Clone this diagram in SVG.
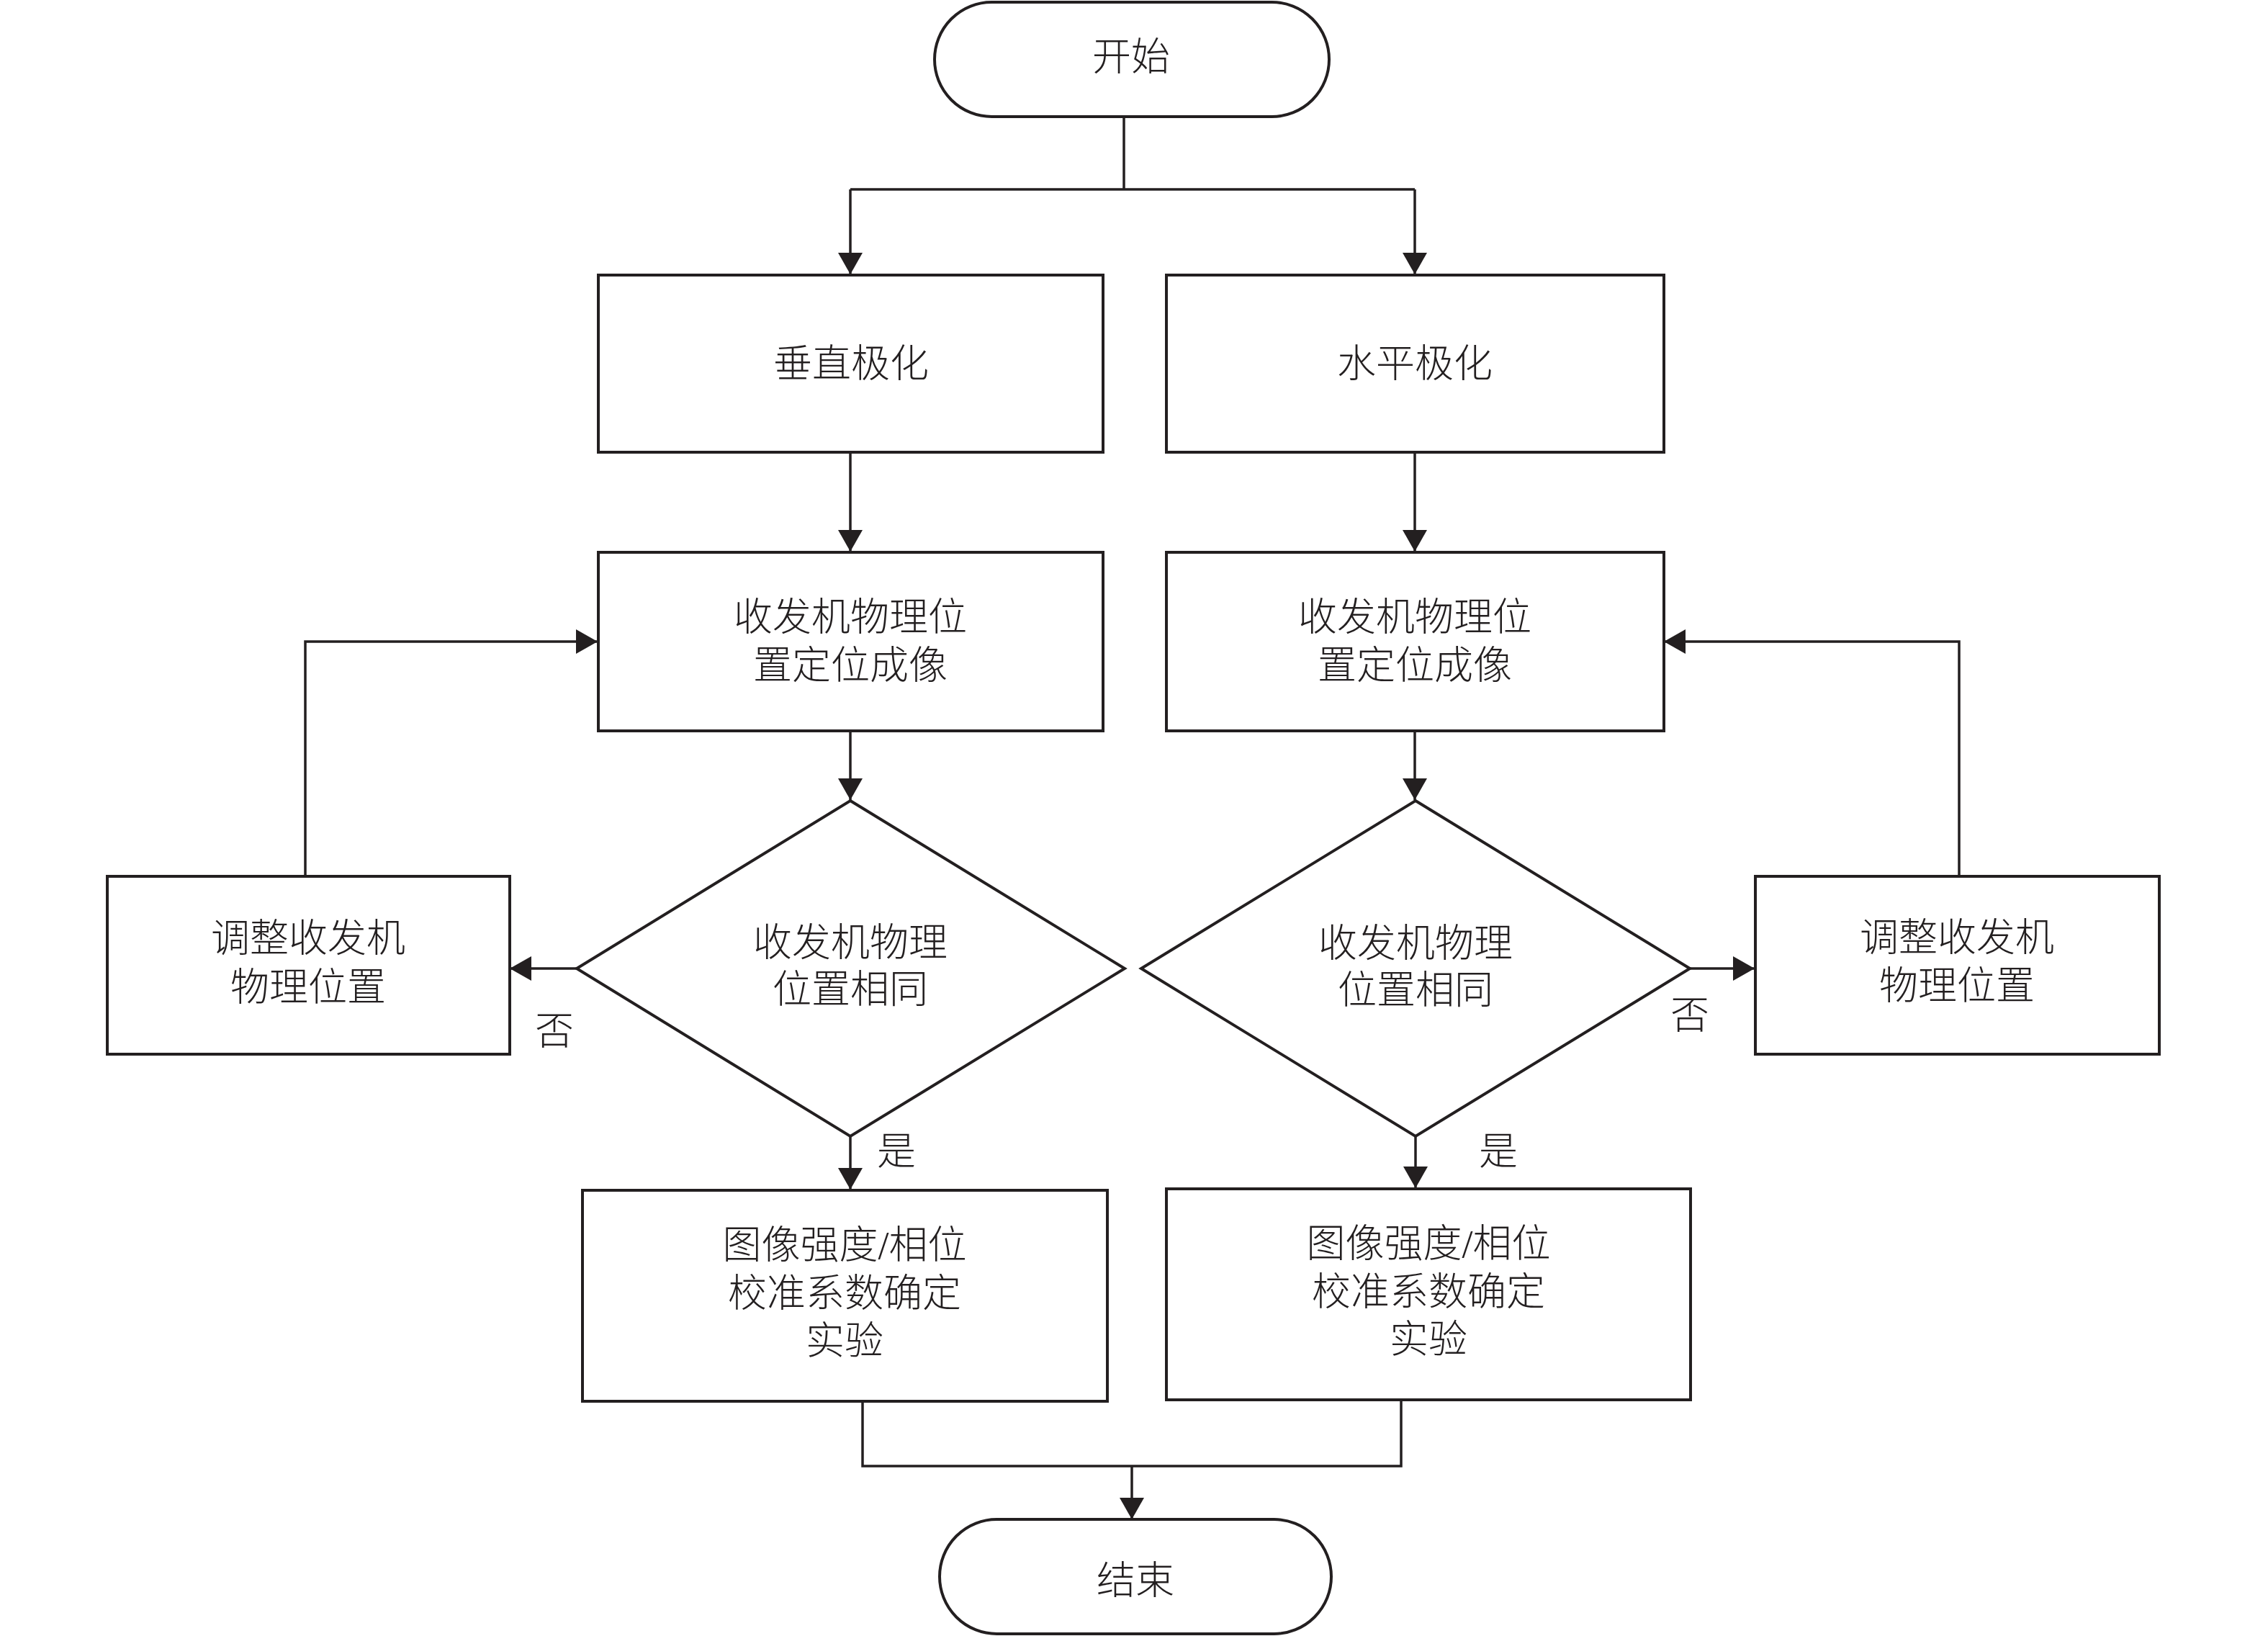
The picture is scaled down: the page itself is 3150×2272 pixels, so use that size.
<svg xmlns="http://www.w3.org/2000/svg" width="3150" height="2272" viewBox="0 0 3150 2272">
<style>
.shape{fill:#fff;stroke:#231f20;stroke-width:4}
.conn{fill:none;stroke:#231f20;stroke-width:3.5}
text{font-family:"Liberation Serif","Noto Sans CJK SC",serif;font-size:54px;fill:#231f20;text-anchor:middle;dominant-baseline:central;font-weight:300}
</style>
<defs>
<marker id="ah" markerUnits="userSpaceOnUse" markerWidth="30" markerHeight="34" refX="30" refY="17" orient="auto">
<path d="M0,0 L30,17 L0,34 z" fill="#231f20"/>
</marker>
</defs>
<rect width="3150" height="2272" fill="#fff"/>
<g id="connectors">
<polyline class="conn" points="1561,162 1561,263"/>
<polyline class="conn" points="1181,263 1965,263"/>
<polyline class="conn" points="1181,263 1181,381" marker-end="url(#ah)"/>
<polyline class="conn" points="1965,263 1965,381" marker-end="url(#ah)"/>
<polyline class="conn" points="1181,628 1181,766" marker-end="url(#ah)"/>
<polyline class="conn" points="1965,628 1965,766" marker-end="url(#ah)"/>
<polyline class="conn" points="1181,1015 1181,1111" marker-end="url(#ah)"/>
<polyline class="conn" points="1965,1015 1965,1111" marker-end="url(#ah)"/>
<polyline class="conn" points="801,1345 708,1345" marker-end="url(#ah)"/>
<polyline class="conn" points="2347,1345 2437,1345" marker-end="url(#ah)"/>
<polyline class="conn" points="424,1217 424,891 830,891" marker-end="url(#ah)"/>
<polyline class="conn" points="2721,1217 2721,891 2311,891" marker-end="url(#ah)"/>
<polyline class="conn" points="1181,1578 1181,1652" marker-end="url(#ah)"/>
<polyline class="conn" points="1966,1578 1966,1650" marker-end="url(#ah)"/>
<polyline class="conn" points="1198,1946 1198,2036 1946,2036 1946,1944"/>
<polyline class="conn" points="1572,2036 1572,2110" marker-end="url(#ah)"/>
<text x="770" y="1433">否</text>
<text x="2347" y="1411">否</text>
<text x="1245" y="1600">是</text>
<text x="2081" y="1600">是</text>
</g>
<g id="start">
<rect class="shape" x="1298" y="3" width="548" height="159" rx="79.5"/>
<text x="1571" y="80">开始</text>
</g>
<g id="vpol">
<rect class="shape" x="831" y="382" width="701" height="246"/>
<text x="1182" y="506">垂直极化</text>
</g>
<g id="hpol">
<rect class="shape" x="1620" y="382" width="691" height="246"/>
<text x="1965" y="506">水平极化</text>
</g>
<g id="imgL">
<rect class="shape" x="831" y="767" width="701" height="248"/>
<text x="1181" y="858">收发机物理位</text>
<text x="1181" y="925">置定位成像</text>
</g>
<g id="imgR">
<rect class="shape" x="1620" y="767" width="691" height="248"/>
<text x="1965" y="858">收发机物理位</text>
<text x="1965" y="925">置定位成像</text>
</g>
<g id="decL">
<polygon class="shape" points="1181,1112 1562,1345 1181,1578 801,1345"/>
<text x="1181" y="1310">收发机物理</text>
<text x="1181" y="1375">位置相同</text>
</g>
<g id="decR">
<polygon class="shape" points="1966,1112 2347,1345 1966,1578 1585,1345"/>
<text x="1966" y="1311">收发机物理</text>
<text x="1966" y="1376">位置相同</text>
</g>
<g id="adjL">
<rect class="shape" x="149" y="1217" width="559" height="247"/>
<text x="428" y="1304">调整收发机</text>
<text x="428" y="1372">物理位置</text>
</g>
<g id="adjR">
<rect class="shape" x="2438" y="1217" width="561" height="247"/>
<text x="2718" y="1303">调整收发机</text>
<text x="2718" y="1370">物理位置</text>
</g>
<g id="calL">
<rect class="shape" x="809" y="1653" width="729" height="293"/>
<text x="1173" y="1730">图像强度/相位</text>
<text x="1173" y="1797">校准系数确定</text>
<text x="1173" y="1863">实验</text>
</g>
<g id="calR">
<rect class="shape" x="1620" y="1651" width="728" height="293"/>
<text x="1984" y="1728">图像强度/相位</text>
<text x="1984" y="1795">校准系数确定</text>
<text x="1984" y="1861">实验</text>
</g>
<g id="end">
<rect class="shape" x="1305" y="2110" width="544" height="159" rx="79.5"/>
<text x="1577" y="2196">结束</text>
</g>
</svg>
